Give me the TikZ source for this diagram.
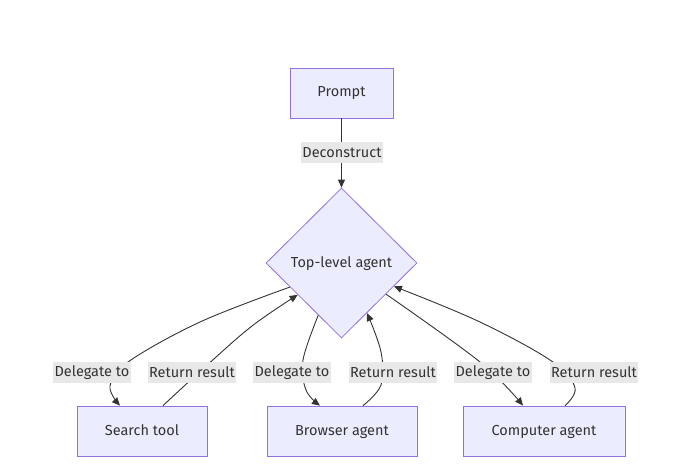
\documentclass[tikz,border=0pt]{standalone}
\usepackage{fontspec}
\setmainfont{Fira Sans}
\usetikzlibrary{shapes.geometric,arrows.meta}
\definecolor{nodefill}{HTML}{ECECFF}
\definecolor{nodeline}{HTML}{9370DB}
\definecolor{txt}{HTML}{333333}
\definecolor{lblbg}{HTML}{E8E8E8}
\begin{document}
\begin{tikzpicture}[x=1pt,y=-1pt,
  box/.style={draw=nodeline,fill=nodefill,line width=0.8pt,text=txt,font=\fontsize{14.5}{16}\selectfont,inner sep=0pt,text height=10pt,text depth=2pt},
  lbl/.style={fill=lblbg,text=txt,font=\fontsize{14.5}{16}\selectfont,inner sep=1.5pt,minimum height=21pt},
  conn/.style={draw=txt,line width=0.9pt,-{Triangle[length=8pt,width=7pt]}}]
\useasboundingbox (0,0) rectangle (680,473);
\node[box,minimum width=103pt,minimum height=50pt] (prompt) at (341.5,93) {Prompt};
\node[box,diamond,minimum width=151pt,minimum height=150pt] (top) at (341.5,263) {Top-level agent};
\node[box,minimum width=130pt,minimum height=50pt] (search) at (142,431) {Search tool};
\node[box,minimum width=150pt,minimum height=50pt] (browser) at (342,431) {Browser agent};
\node[box,minimum width=162pt,minimum height=50pt] (computer) at (544,431) {Computer agent};
% edges
\draw[conn] (prompt.south) -- (top.north);
\draw[conn] plot[smooth,tension=0.6] coordinates {(top.205) (200,322) (128,362) (110,386) ([xshift=-22pt]search.north)};
\draw[conn] plot[smooth,tension=0.6] coordinates {([xshift=21pt]search.north) (205,367) (252,326) (top.216)};
\draw[conn] plot[smooth,tension=0.6] coordinates {(top.246.5) (303,360) (306,390) ([xshift=-22pt]browser.north)};
\draw[conn] plot[smooth,tension=0.6] coordinates {([xshift=21pt]browser.north) (381,385) (381,352) (top.297)};
\draw[conn] plot[smooth,tension=0.6] coordinates {(top.325) (480,362) ([xshift=-21pt]computer.north)};
\draw[conn] plot[smooth,tension=0.6] coordinates {([xshift=21pt]computer.north) (575,388) (553,362) (480,322) (top.336)};
% labels
\node[lbl] (l0) at (342,152.5) {Deconstruct};
\node[lbl] (l1) at (92,372.5) {Delegate to};
\node[lbl] (l2) at (192,372.5) {Return result};
\node[lbl] (l3) at (292,372.5) {Delegate to};
\node[lbl] (l4) at (393,372.5) {Return result};
\node[lbl] (l5) at (493,372.5) {Delegate to};
\node[lbl] (l6) at (594,372.5) {Return result};
\end{tikzpicture}
\end{document}
